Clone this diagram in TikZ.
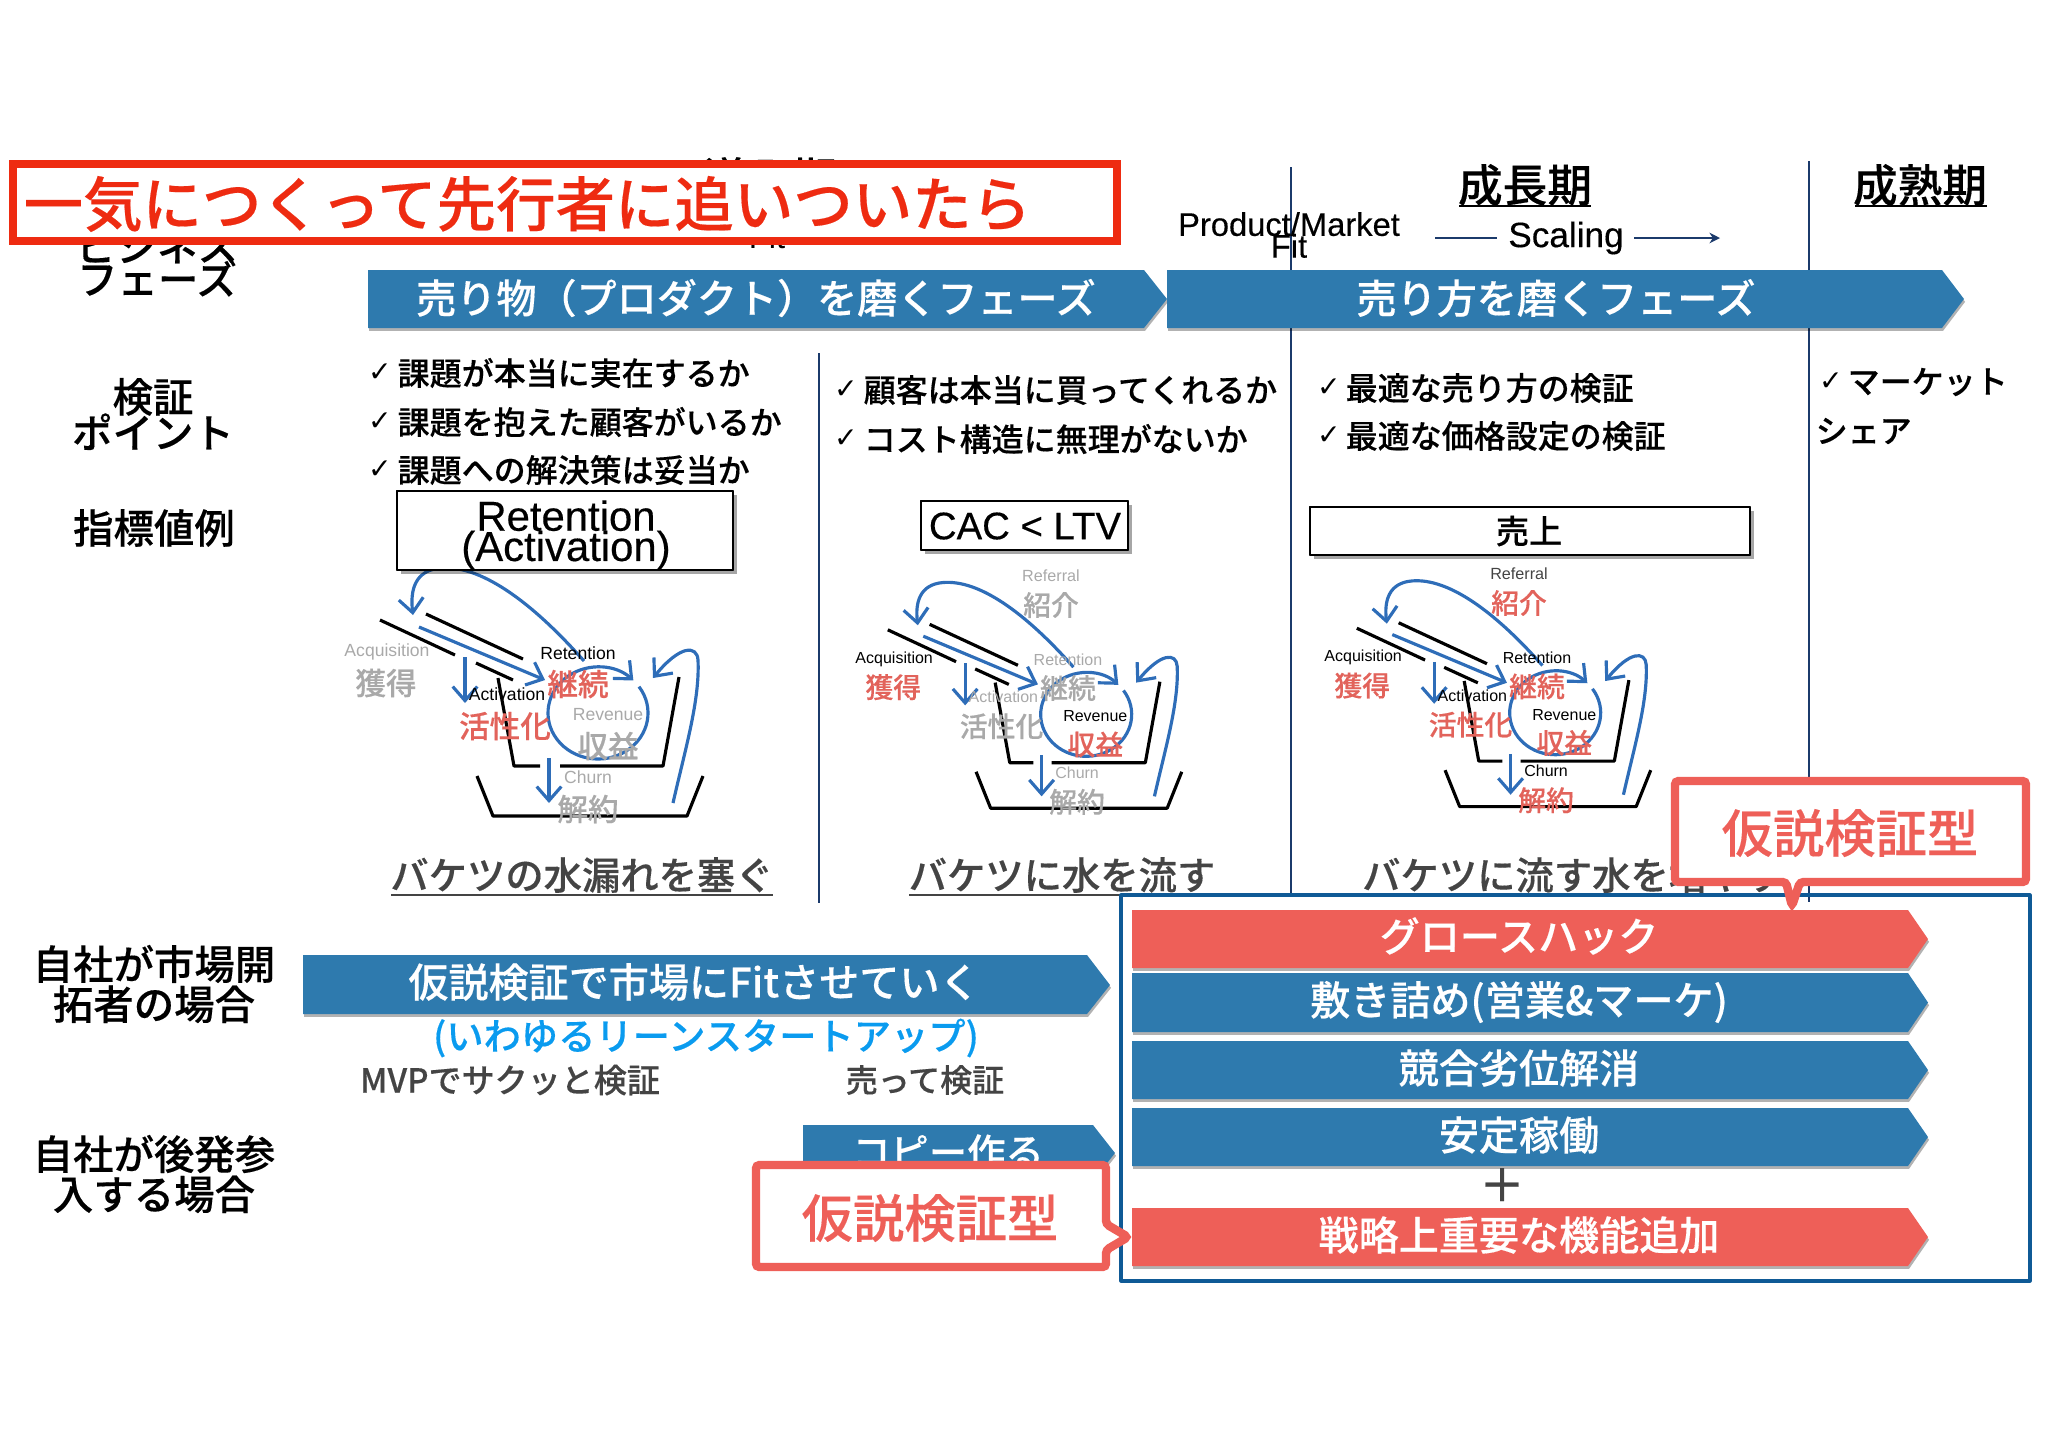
\documentclass[tikz,border=0pt]{standalone}
\usepackage{fontspec}
\setmainfont{Noto Sans CJK JP}[BoldFont={Noto Sans CJK JP Medium},BoldFeatures={FakeBold=0.3}]
\newfontfamily\enfont{Liberation Sans}
\newfontfamily\enmed{Liberation Sans}[FakeBold=0.35]
\newfontfamily\symfont{DejaVu Sans}
\usetikzlibrary{arrows.meta,shadows}
\setlength{\lineskiplimit}{-30pt}
\definecolor{barblue}{HTML}{2E7AAE}
\definecolor{barred}{HTML}{EE5F58}
\definecolor{navyline}{HTML}{1B3A6B}
\definecolor{boxnavy}{HTML}{0F5A96}
\definecolor{penblue}{HTML}{2E6DB8}
\definecolor{bannerred}{HTML}{EE2B11}
\definecolor{textgrey}{HTML}{444444}
\definecolor{labelgrey}{HTML}{A9A9A9}
\definecolor{labelred}{HTML}{E2635B}
\definecolor{leancyan}{HTML}{0A9BEF}
\tikzset{
	softshadow/.style={drop shadow={shadow xshift=0.3pt,shadow yshift=-0.8pt,opacity=0.3,fill=black}},
	boxshadow/.style={drop shadow={shadow xshift=1pt,shadow yshift=-1.1pt,opacity=0.35,fill=black}},
	bluebar/.style={fill=barblue,softshadow},
	redbar/.style={fill=barred,softshadow},
	bartext/.style={text=white,font=\fontsize{11.4}{13}\selectfont\bfseries,inner sep=0pt},
	sidelabel/.style={align=center,inner sep=0pt,font=\fontsize{11.5}{#1}\selectfont\bfseries},
	heading/.style={inner sep=0pt,font=\fontsize{12.7}{14}\selectfont\bfseries},
	headline/.style={line width=0.8pt},
	divider/.style={navyline,line width=0.6pt},
	checkmark/.style={inner sep=0pt,font=\fontsize{8}{9}\symfont},
	checktext/.style={anchor=west,inner sep=0pt,font=\fontsize{9.1}{11}\selectfont\bfseries},
	metricbox/.style={draw=black,fill=white,line width=0.7pt,boxshadow},
	metrictext/.style={inner sep=0pt,align=center},
	caption/.style={inner sep=0pt,text=textgrey,font=\fontsize{10.9}{13}\selectfont\bfseries},
	captionline/.style={textgrey,line width=0.6pt},
	bucketline/.style={line width=0.9pt,line cap=butt},
	bluepen/.style={penblue,line width=0.9pt,-{Straight Barb[length=4pt,width=7pt]}},
	enon/.style={inner sep=0pt,text=black,font=\fontsize{5}{6}\enfont},
	enoff/.style={inner sep=0pt,text=labelgrey,font=\fontsize{5}{6}\enfont},
	jaon/.style={inner sep=0pt,text=labelred,font=\fontsize{8.7}{10}\selectfont\bfseries},
	jaoff/.style={inner sep=0pt,text=labelgrey,font=\fontsize{8.7}{10}\selectfont\bfseries},
	callout/.style={draw=barred,fill=white,line width=2.4pt,rounded corners=1pt,line join=miter},
	callouttext/.style={inner sep=0pt,text=barred,font=\fontsize{14.6}{16}\selectfont\bfseries},
}
% one funnel and its two buckets; #1 tag, #2 #3 shift, #4 scale, #5-#9 on or off
\newcommand{\bucketpic}[9]{
	\begin{scope}[shift={(#2,#3)},scale=#4,transform shape]
		\draw[bucketline] (380,620)--(455,655);
		\draw[bucketline] (426,614)--(523,659);
		\draw[bucketline] (476,663)--(513,680);
		\draw[bucketline] (498,678)--(514,766)--(540,766);
		\draw[bucketline] (560,766)--(663,766)--(679,677);
		\draw[bucketline] (477,776)--(493,816)--(687,816)--(703,776);
		\draw[bluepen] (419,627)--(545,680);
		\draw[bluepen] (465,657)--(465,703);
		\draw[bluepen] (549,758)--(549,803);
		\draw[bluepen] (598,713) ++(-35:50 and 46) arc[start angle=-35,end angle=315,x radius=50,y radius=46];
		\draw[bluepen] (584,661) .. controls (530,600) and (480,565) .. (441,568) .. controls (415,570) and (410,590) .. (413,615);
		\draw[bluepen] (673,803) .. controls (685,750) and (700,700) .. (698,660) .. controls (697,645) and (680,645) .. (653,678);
		\node[en#5] (acqen#1) at (387,652) {Acquisition};
		\node[ja#5] (acqja#1) at (386,683) {獲得};
		\node[en#6] (acten#1) at (507,694) {Activation};
		\node[ja#6] (actja#1) at (505,726) {活性化};
		\node[en#7] (reten#1) at (578,653) {Retention};
		\node[ja#7] (retja#1) at (578,684) {継続};
		\node[en#8] (reven#1) at (608,715) {Revenue};
		\node[ja#8] (revja#1) at (608,746) {収益};
		\node[en#9] (churnen#1) at (588,777) {Churn};
		\node[ja#9] (churnja#1) at (588,809) {解約};
	\end{scope}
}
\begin{document}
\begin{tikzpicture}[x=0.01cm,y=-0.01cm,line join=round,>=stealth]
	\useasboundingbox (0,0) rectangle (2048,1447);
	% dividers
	\draw[divider] (819,353)--(819,903);
	\draw[divider] (1291,167)--(1291,894);
	\draw[divider] (1809,161)--(1809,902);
	% top row
	\node[heading] (intro) at (770,178) {導入期};
	\node[enon,font=\fontsize{9.3}{11}\enfont] (fitone) at (767,237) {Fit};
	\node[heading] (growth) at (1525,185) {成長期};
	\draw[headline] (1459,206)--(1591,206);
	\node[heading] (mature) at (1920,185) {成熟期};
	\draw[headline] (1855,206)--(1987,206);
	\node[metrictext,font=\fontsize{9.3}{6.2}\enmed] (pmf) at (1289,235) {Product/Market\\Fit};
	\node[metrictext,font=\fontsize{10}{12}\enmed] (scaling) at (1566,238) {Scaling};
	\draw[navyline,line width=0.6pt] (1435,238)--(1497,238);
	\draw[navyline,line width=0.6pt,-{Stealth[length=3pt,width=3pt]}] (1634,238)--(1720,238);
	% left labels
	\node[sidelabel=9.4] (phase) at (157,262) {ビジネス\\フェーズ};
	\node[sidelabel=10.2] (check) at (153,414) {検証\\ポイント};
	\node[sidelabel=11] (metric) at (154,528) {指標値例};
	\node[sidelabel=11.4] (pioneer) at (154,984) {自社が市場開\\拓者の場合};
	\node[sidelabel=11.4] (follower) at (154,1174) {自社が後発参\\入する場合};
	% phase bars
	\fill[bluebar] (368,270)--(1144,270)--(1167,299)--(1144,328)--(368,328)--cycle;
	\node[bartext] (sellthing) at (756,298) {売り物（プロダクト）を磨くフェーズ};
	\fill[bluebar] (1167,270)--(1942,270)--(1964,299)--(1942,328)--(1167,328)--cycle;
	\node[bartext] (sellway) at (1556,298) {売り方を磨くフェーズ};
	% check lists
	\foreach \y/\txt in {373/課題が本当に実在するか,422/課題を抱えた顧客がいるか,470/課題への解決策は妥当か}{
		\node[checkmark] (ca\y) at (380,\y) {✓};
		\node[checktext] (ta\y) at (397,\y) {\txt};
	}
	\foreach \y/\txt in {390/顧客は本当に買ってくれるか,439/コスト構造に無理がないか}{
		\node[checkmark] (cb\y) at (846,\y) {✓};
		\node[checktext] (tb\y) at (863,\y) {\txt};
	}
	\foreach \y/\txt in {388/最適な売り方の検証,436/最適な価格設定の検証}{
		\node[checkmark] (cc\y) at (1329,\y) {✓};
		\node[checktext] (tc\y) at (1345,\y) {\txt};
	}
	\node[checkmark] (cd382) at (1831,382) {✓};
	\node[checktext] (td382) at (1847,382) {マーケット};
	\node[checktext] (td431) at (1815,431) {シェア};
	% buckets
	\bucketpic{a}{0}{0}{1}{off}{on}{on}{off}{off}
	\bucketpic{b}{542}{65.6}{0.91}{on}{off}{off}{on}{off}
	\bucketpic{c}{1011}{64}{0.91}{on}{on}{on}{on}{on}
	\node[enoff,font=\fontsize{4.6}{6}\enfont] (referb) at (1051,576) {Referral};
	\node[jaoff,font=\fontsize{7.9}{9}\selectfont\bfseries] (referjb) at (1051,605) {紹介};
	\node[enon,text=textgrey,font=\fontsize{4.6}{6}\enfont] (referc) at (1519,574) {Referral};
	\node[jaon,font=\fontsize{7.9}{9}\selectfont\bfseries] (referjc) at (1519,603) {紹介};
	% metric boxes
	\fill[metricbox] (397,491) rectangle (733,570);
	\draw[line width=0.7pt] (397,491) rectangle (733,570);
	\node[metrictext,font=\fontsize{11.9}{8.6}\enmed] (retbox) at (566,535) {Retention\\(Activation)};
	\fill[metricbox] (921,501) rectangle (1128,550);
	\draw[line width=0.7pt] (921,501) rectangle (1128,550);
	\node[metrictext,font=\fontsize{10.9}{12}\enmed] (cacbox) at (1025,526) {CAC < LTV};
	\fill[metricbox] (1310,507) rectangle (1750,555);
	\draw[line width=0.7pt] (1310,507) rectangle (1750,555);
	\node[metrictext,font=\fontsize{9.4}{11}\selectfont\bfseries] (salesbox) at (1529,531) {売上};
	% captions
	\node[caption] (leak) at (582,875) {バケツの水漏れを塞ぐ};
	\draw[captionline] (391,895)--(773,895);
	\node[caption] (pour) at (1062,875) {バケツに水を流す};
	\draw[captionline] (909,895)--(1215,895);
	\node[caption] (more) at (1573,875) {バケツに流す水を増やす};
	\draw[captionline] (1364,895)--(1782,895);
	% left arrows
	\fill[bluebar] (303,955)--(1087,955)--(1110,985)--(1087,1014)--(303,1014)--cycle;
	\node[bartext] (fitmarket) at (694,982) {仮説検証で市場にFitさせていく};
	\node[inner sep=0pt,text=leancyan,font=\fontsize{10.6}{12}\selectfont\bfseries] (lean) at (706,1038) {(いわゆるリーンスタートアップ)};
	\node[inner sep=0pt,text=textgrey,font=\fontsize{9.4}{11}\selectfont\bfseries] (mvp) at (510,1080) {MVPでサクッと検証};
	\node[inner sep=0pt,text=textgrey,font=\fontsize{9.1}{11}\selectfont\bfseries] (sellcheck) at (925,1080) {売って検証};
	\fill[bluebar] (803,1125)--(1093,1125)--(1115,1153)--(1093,1181)--(803,1181)--cycle;
	\node[bartext,font=\fontsize{10.9}{13}\selectfont\bfseries] (copy) at (948,1152) {コピー作る};
	% right column
	\draw[boxnavy,line width=0.9pt] (1121,895) rectangle (2030,1281);
	\foreach \sty/\ya/\yb/\yt/\tag/\txt in {redbar/910/968/936/growthhack/グロースハック,bluebar/973/1032/1002/sales/{敷き詰め(営業\&マーケ)},bluebar/1041/1099/1068/rival/競合劣位解消,bluebar/1108/1166/1135/stable/安定稼働,redbar/1208/1266/1235/feature/戦略上重要な機能追加}{
		\fill[\sty] (1132,\ya)--(1908,\ya)--(1928,{(\ya+\yb)/2})--(1908,\yb)--(1132,\yb)--cycle;
		\node[bartext] (\tag) at (1519,\yt) {\txt};
	}
	\node[inner sep=0pt,text=textgrey,font=\fontsize{13}{15}\selectfont\bfseries] (plus) at (1502,1185) {＋};
	% callouts
	\draw[callout] (1675,781)--(2026,781)--(2026,882)--(1800,882)--(1792,906)--(1786,882)--(1675,882)--cycle;
	\node[callouttext] (typeup) at (1850,833) {仮説検証型};
	\draw[callout] (756,1165)--(1106,1165)--(1106,1224)--(1128,1237)--(1106,1250)--(1106,1267)--(756,1267)--cycle;
	\node[callouttext] (typedown) at (930,1218) {仮説検証型};
	% banner
	\draw[bannerred,fill=white,line width=2.3pt,line join=miter] (13,164) rectangle (1117,241);
	\node[inner sep=0pt,anchor=west,text=bannerred,font=\fontsize{16.9}{19}\selectfont\bfseries] (banner) at (23,204) {一気につくって先行者に追いついたら};
\end{tikzpicture}
\end{document}
